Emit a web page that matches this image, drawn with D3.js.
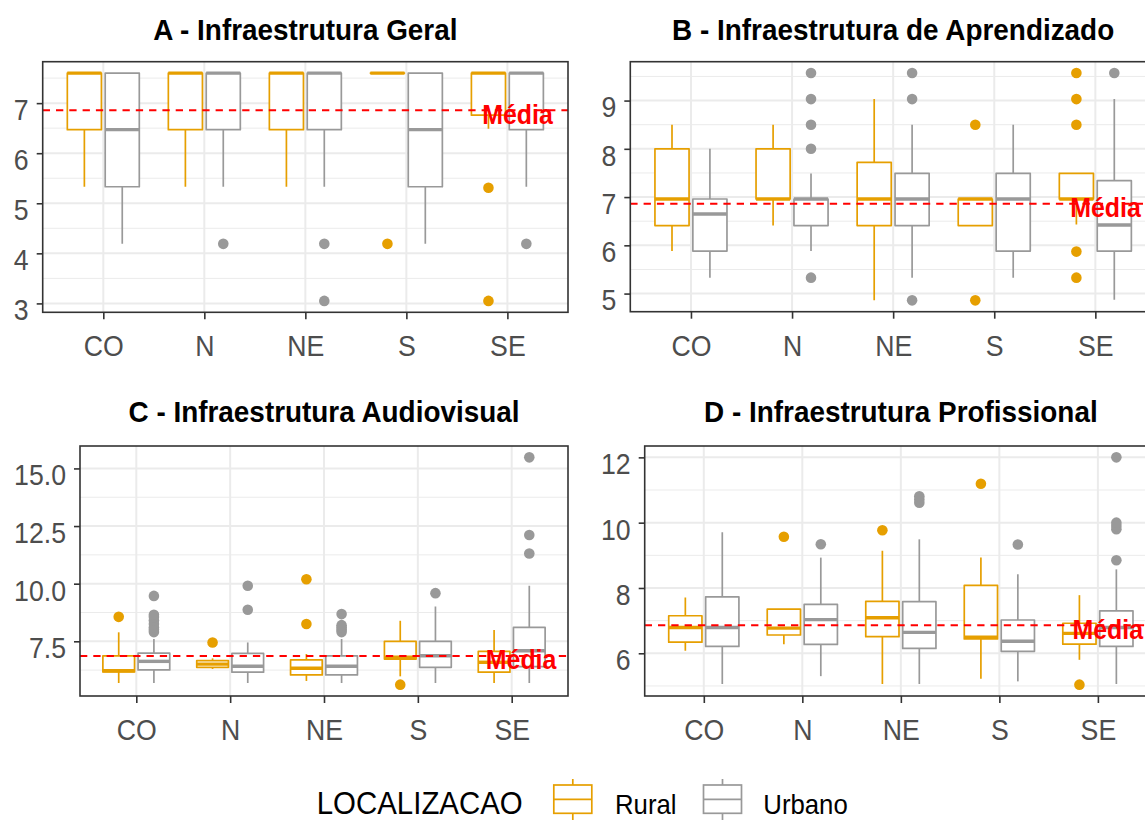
<!DOCTYPE html>
<html>
<head>
<meta charset="utf-8">
<script src="https://cdn.jsdelivr.net/npm/d3@7"></script>
<style>
  body { margin: 0; background: #ffffff; }
  svg { display: block; font-family: "Liberation Sans", Arial, sans-serif; }
</style>
</head>
<body>
<svg id="chart" width="1145" height="820"></svg>
<script>
// ---- data ------------------------------------------------------------
const regions = ["CO", "N", "NE", "S", "SE"];
const locations = ["Rural", "Urbano"];
const locationColors = ["#E69F00", "#999999"];
const overallMean = 6.86;
const meanLabel = "Média";
const legendTitle = "LOCALIZACAO";

const panelTitles = [
  "A - Infraestrutura Geral",
  "B - Infraestrutura de Aprendizado",
  "C - Infraestrutura Audiovisual",
  "D - Infraestrutura Profissional"
];

// box summaries: [region, location, lower whisker, Q1, median, Q3, upper whisker]
const boxesA = [
  ["CO", "Rural", 5.33, 6.47, 7.6, 7.6, 7.6],
  ["CO", "Urbano", 4.19, 5.33, 6.47, 7.6, 7.6],
  ["N", "Rural", 5.33, 6.47, 7.6, 7.6, 7.6],
  ["N", "Urbano", 5.33, 6.47, 7.6, 7.6, 7.6],
  ["NE", "Rural", 5.33, 6.47, 7.6, 7.6, 7.6],
  ["NE", "Urbano", 5.33, 6.47, 7.6, 7.6, 7.6],
  ["S", "Rural", 7.6, 7.6, 7.6, 7.6, 7.6],
  ["S", "Urbano", 4.19, 5.33, 6.47, 7.6, 7.6],
  ["SE", "Rural", 6.49, 6.76, 7.6, 7.6, 7.6],
  ["SE", "Urbano", 5.33, 6.47, 7.6, 7.6, 7.6]
];
const outliersA = [
  ["N", "Urbano", 4.19],
  ["NE", "Urbano", 4.19], ["NE", "Urbano", 3.05],
  ["S", "Rural", 4.19],
  ["SE", "Rural", 5.31], ["SE", "Rural", 3.05],
  ["SE", "Urbano", 4.19]
];

const boxesB = [
  ["CO", "Rural", 5.88, 6.41, 6.96, 8.0, 8.5],
  ["CO", "Urbano", 5.33, 5.88, 6.65, 6.96, 8.0],
  ["N", "Rural", 6.41, 6.96, 6.96, 8.0, 8.5],
  ["N", "Urbano", 5.88, 6.41, 6.96, 6.96, 7.49],
  ["NE", "Rural", 4.86, 6.41, 6.96, 7.72, 9.03],
  ["NE", "Urbano", 5.33, 6.41, 6.96, 7.49, 8.5],
  ["S", "Rural", 6.41, 6.41, 6.96, 6.96, 6.96],
  ["S", "Urbano", 5.33, 5.88, 6.96, 7.49, 8.5],
  ["SE", "Rural", 6.43, 6.96, 6.96, 7.49, 7.49],
  ["SE", "Urbano", 4.87, 5.88, 6.42, 7.34, 9.03]
];
const outliersB = [
  ["N", "Urbano", 9.57], ["N", "Urbano", 9.03], ["N", "Urbano", 8.5], ["N", "Urbano", 8.0], ["N", "Urbano", 5.33],
  ["NE", "Urbano", 9.57], ["NE", "Urbano", 9.03], ["NE", "Urbano", 4.86],
  ["S", "Rural", 8.5], ["S", "Rural", 4.86],
  ["SE", "Rural", 9.57], ["SE", "Rural", 9.03], ["SE", "Rural", 8.5], ["SE", "Rural", 5.87], ["SE", "Rural", 5.33],
  ["SE", "Urbano", 9.57]
];

const boxesC = [
  ["CO", "Rural", 5.69, 6.17, 6.22, 6.87, 7.89],
  ["CO", "Urbano", 5.69, 6.26, 6.63, 6.99, 7.6],
  ["N", "Rural", 6.3, 6.37, 6.51, 6.66, 6.76],
  ["N", "Urbano", 5.69, 6.16, 6.42, 6.98, 7.45],
  ["NE", "Rural", 5.78, 6.04, 6.33, 6.69, 6.95],
  ["NE", "Urbano", 5.69, 6.04, 6.42, 6.87, 7.6],
  ["S", "Rural", 5.98, 6.73, 6.81, 7.5, 8.39],
  ["S", "Urbano", 5.69, 6.37, 6.87, 7.5, 9.01],
  ["SE", "Rural", 5.69, 6.16, 6.59, 7.06, 7.99],
  ["SE", "Urbano", 5.69, 6.4, 7.09, 8.1, 9.91]
];
const outliersC = [
  ["CO", "Rural", 8.56],
  ["CO", "Urbano", 7.9], ["CO", "Urbano", 8.0], ["CO", "Urbano", 8.1], ["CO", "Urbano", 8.25],
  ["CO", "Urbano", 8.4], ["CO", "Urbano", 8.55], ["CO", "Urbano", 8.65], ["CO", "Urbano", 9.47],
  ["N", "Rural", 7.45],
  ["N", "Urbano", 8.87], ["N", "Urbano", 9.91],
  ["NE", "Rural", 8.25], ["NE", "Rural", 10.19],
  ["NE", "Urbano", 7.9], ["NE", "Urbano", 8.0], ["NE", "Urbano", 8.1], ["NE", "Urbano", 8.2], ["NE", "Urbano", 8.68],
  ["S", "Rural", 5.62],
  ["S", "Urbano", 9.59],
  ["SE", "Urbano", 11.31], ["SE", "Urbano", 12.11], ["SE", "Urbano", 15.48]
];

const boxesD = [
  ["CO", "Rural", 6.08, 6.34, 6.79, 7.15, 7.71],
  ["CO", "Urbano", 5.06, 6.21, 6.79, 7.73, 9.71],
  ["N", "Rural", 6.28, 6.56, 6.77, 7.35, 7.35],
  ["N", "Urbano", 5.3, 6.27, 7.03, 7.5, 8.93],
  ["NE", "Rural", 5.06, 6.51, 7.09, 7.59, 9.14],
  ["NE", "Urbano", 5.06, 6.15, 6.64, 7.58, 9.49],
  ["S", "Rural", 5.22, 6.44, 6.49, 8.08, 8.93],
  ["S", "Urbano", 5.14, 6.06, 6.37, 7.02, 8.42],
  ["SE", "Rural", 5.8, 6.28, 6.61, 6.92, 7.78],
  ["SE", "Urbano", 5.06, 6.21, 6.79, 7.3, 8.57]
];
const outliersD = [
  ["N", "Rural", 9.57],
  ["N", "Urbano", 9.34],
  ["NE", "Rural", 9.77],
  ["NE", "Urbano", 10.61], ["NE", "Urbano", 10.71], ["NE", "Urbano", 10.81],
  ["S", "Rural", 11.19],
  ["S", "Urbano", 9.33],
  ["SE", "Rural", 5.04],
  ["SE", "Urbano", 8.85], ["SE", "Urbano", 9.8], ["SE", "Urbano", 9.9], ["SE", "Urbano", 10.0], ["SE", "Urbano", 12.0]
];

const ticksA = [3, 4, 5, 6, 7];
const ticksB = [5, 6, 7, 8, 9];
const ticksC = [7.5, 10, 12.5, 15];
const ticksD = [6, 8, 10, 12];

// ---- layout -----------------------------------------------------------
const panels = [
  { title: panelTitles[0], boxes: boxesA, outliers: outliersA, ticks: ticksA, fmt: d3.format("d"),
    left: 42.7, right: 568, top: 61.7, bottom: 312.3, titleY: 40 },
  { title: panelTitles[1], boxes: boxesB, outliers: outliersB, ticks: ticksB, fmt: d3.format("d"),
    left: 630.3, right: 1156, top: 61.7, bottom: 311.7, titleY: 40 },
  { title: panelTitles[2], boxes: boxesC, outliers: outliersC, ticks: ticksC, fmt: d3.format(".1f"),
    left: 80, right: 568, top: 446, bottom: 696, titleY: 422 },
  { title: panelTitles[3], boxes: boxesD, outliers: outliersD, ticks: ticksD, fmt: d3.format("d"),
    left: 644.7, right: 1157, top: 446, bottom: 696, titleY: 422 }
];

const svg = d3.select("#chart");
svg.append("rect").attr("width", 1145).attr("height", 820).attr("fill", "#ffffff");

const colorOf = d3.scaleOrdinal().domain(locations).range(locationColors);
const axisGrey = "#4D4D4D";
const borderColor = "#333333";
const gridColor = "#EBEBEB";

// text drawn slightly narrower than the font's natural width
function label(g, x, y, str, size, sx, opts = {}) {
  return g.append("text")
    .attr("transform", `translate(${x},${y}) scale(${sx},1)`)
    .attr("font-size", size)
    .attr("font-weight", opts.bold ? "bold" : "normal")
    .attr("text-anchor", opts.anchor || "start")
    .attr("fill", opts.fill || "#000000")
    .text(str);
}

panels.forEach((p, i) => {
  const g = svg.append("g");

  const x = d3.scalePoint().domain(regions).range([p.left, p.right]).padding(0.6);
  const step = x.step();

  const allVals = p.boxes.flatMap(b => b.slice(2)).concat(p.outliers.map(o => o[2]));
  const lo = d3.min(allVals), hi = d3.max(allVals), span = hi - lo;
  const y = d3.scaleLinear().domain([lo - 0.05 * span, hi + 0.05 * span]).range([p.bottom, p.top]);

  const offset = d3.scaleOrdinal().domain(locations).range([-0.1875 * step, 0.1875 * step]);
  const boxW = 0.3375 * step;

  // clipping for marks inside the panel
  const clipId = "clip" + i;
  svg.append("clipPath").attr("id", clipId)
    .append("rect").attr("x", p.left).attr("y", p.top)
    .attr("width", p.right - p.left).attr("height", p.bottom - p.top);

  const inner = g.append("g").attr("clip-path", `url(#${clipId})`);

  // grid: minor lines halfway between major ticks, then major lines
  const dt = p.ticks[1] - p.ticks[0];
  const [d0, d1] = y.domain();
  const minor = [p.ticks[0] - dt / 2].concat(p.ticks.map(t => t + dt / 2)).filter(v => v > d0 && v < d1);
  inner.selectAll(".minor").data(minor).join("line")
    .attr("x1", p.left).attr("x2", p.right)
    .attr("y1", d => y(d)).attr("y2", d => y(d))
    .attr("stroke", gridColor).attr("stroke-width", 1);
  inner.selectAll(".majorY").data(p.ticks).join("line")
    .attr("x1", p.left).attr("x2", p.right)
    .attr("y1", d => y(d)).attr("y2", d => y(d))
    .attr("stroke", gridColor).attr("stroke-width", 2);
  inner.selectAll(".majorX").data(regions).join("line")
    .attr("x1", d => x(d)).attr("x2", d => x(d))
    .attr("y1", p.top).attr("y2", p.bottom)
    .attr("stroke", gridColor).attr("stroke-width", 2);

  // boxplots
  const boxG = inner.selectAll(".box").data(p.boxes).join("g");
  boxG.each(function (b) {
    const [reg, loc, wLo, q1, med, q3, wHi] = b;
    const cx = x(reg) + offset(loc);
    const col = colorOf(loc);
    const bg = d3.select(this);
    bg.append("line").attr("x1", cx).attr("x2", cx).attr("y1", y(q3)).attr("y2", y(wHi))
      .attr("stroke", col).attr("stroke-width", 1.7);
    bg.append("line").attr("x1", cx).attr("x2", cx).attr("y1", y(q1)).attr("y2", y(wLo))
      .attr("stroke", col).attr("stroke-width", 1.7);
    const x0 = cx - boxW / 2, x1 = cx + boxW / 2;
    bg.append("path")
      .attr("d", `M${x0},${y(q1)}L${x1},${y(q1)}L${x1},${y(q3)}L${x0},${y(q3)}Z`)
      .attr("fill", "#ffffff").attr("stroke", col).attr("stroke-width", 1.7)
      .attr("stroke-linejoin", "round");
    bg.append("line").attr("x1", x0).attr("x2", x1).attr("y1", y(med)).attr("y2", y(med))
      .attr("stroke", col).attr("stroke-width", 3.4);
  });

  // outliers
  inner.selectAll(".out").data(p.outliers).join("circle")
    .attr("cx", d => x(d[0]) + offset(d[1]))
    .attr("cy", d => y(d[2]))
    .attr("r", 5.3)
    .attr("fill", d => colorOf(d[1]));

  // overall mean reference line
  inner.append("line")
    .attr("x1", p.left).attr("x2", p.right)
    .attr("y1", y(overallMean)).attr("y2", y(overallMean))
    .attr("stroke", "#FF0000").attr("stroke-width", 2)
    .attr("stroke-dasharray", "7.3,6");

  label(g, x("SE") + 0.1 * step, y(overallMean) + 13.4, meanLabel, 28, 0.89,
    { bold: true, anchor: "middle", fill: "#FF0000" });

  // panel border
  g.append("rect").attr("x", p.left).attr("y", p.top)
    .attr("width", p.right - p.left).attr("height", p.bottom - p.top)
    .attr("fill", "none").attr("stroke", borderColor).attr("stroke-width", 1.6);

  // axes
  const yAxis = g.append("g").attr("transform", `translate(${p.left},0)`)
    .call(d3.axisLeft(y).tickValues(p.ticks).tickSize(6).tickFormat(p.fmt));
  const xAxis = g.append("g").attr("transform", `translate(0,${p.bottom})`)
    .call(d3.axisBottom(x).tickSize(7));
  [yAxis, xAxis].forEach(ax => {
    ax.select(".domain").remove();
    ax.selectAll(".tick line").attr("stroke", borderColor).attr("stroke-width", 1.6);
    ax.selectAll(".tick text")
      .attr("fill", axisGrey).attr("font-size", 29)
      .attr("font-family", "\"Liberation Sans\", Arial, sans-serif")
      .attr("x", null).attr("y", null).attr("dy", null);
  });
  yAxis.selectAll(".tick text").attr("text-anchor", "end")
    .attr("transform", "translate(-14,16.4) scale(0.92,1)");
  xAxis.selectAll(".tick text").attr("text-anchor", "middle")
    .attr("transform", "translate(0,44) scale(0.92,1)");

  // panel title
  label(g, (p.left + p.right) / 2, p.titleY, p.title, 30, 0.93, { bold: true, anchor: "middle" });
});

// ---- legend -------------------------------------------------------------
const leg = svg.append("g");
label(leg, 316.7, 814, legendTitle, 32, 0.92);
const keyX = d3.scaleOrdinal().domain(locations).range([572.8, 722.5]);
const textX = d3.scaleOrdinal().domain(locations).range([615, 763.3]);
locations.forEach(loc => {
  const cx = keyX(loc), col = colorOf(loc);
  leg.append("line").attr("x1", cx).attr("x2", cx).attr("y1", 779).attr("y2", 821)
    .attr("stroke", col).attr("stroke-width", 1.7);
  leg.append("rect").attr("x", cx - 19).attr("y", 785).attr("width", 38).attr("height", 28.3)
    .attr("fill", "#ffffff").attr("stroke", col).attr("stroke-width", 1.7);
  leg.append("line").attr("x1", cx - 19).attr("x2", cx + 19).attr("y1", 799.3).attr("y2", 799.3)
    .attr("stroke", col).attr("stroke-width", 1.7);
  label(leg, textX(loc), 814, loc, 28, 0.92);
});
</script>
</body>
</html>
